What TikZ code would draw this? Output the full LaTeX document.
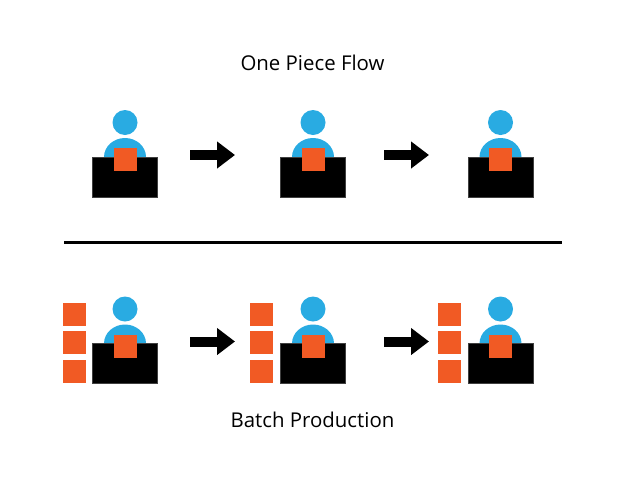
\documentclass[tikz,border=0pt]{standalone}
\usepackage{fontspec}
\setmainfont{Open Sans}
\usetikzlibrary{arrows.meta}
\definecolor{headblue}{HTML}{29ABE2}
\definecolor{partorange}{HTML}{F15A24}
\tikzset{
    head/.style={circle, fill=headblue, minimum size=25pt, inner sep=0pt},
    desk/.style={rectangle, draw=black!75, line width=0.6pt, fill=black, minimum width=65pt, minimum height=40pt, inner sep=0pt},
    part/.style={rectangle, fill=partorange, minimum width=23pt, minimum height=23pt, inner sep=0pt},
    flow/.style={line width=10pt, black, -{Triangle[length=18pt,width=26pt]}},
    title/.style={font=\fontsize{20.4}{24}\selectfont, inner sep=0pt}
}
\begin{document}
\begin{tikzpicture}[x=1pt, y=-1pt]
    \useasboundingbox (0,0) rectangle (626,501);

    \node[title] (onepiece) at (312.5,63) {One Piece Flow};
    \node[title] (batch) at (312.5,419.5) {Batch Production};

    % Top row (t) and bottom row (b)
    \foreach \r/\dy in {t/0, b/186.5} {
        \foreach \i/\x in {1/125, 2/313, 3/500.5} {
            \node[head] (\r head\i) at (\x,122.5+\dy) {};
            \fill[headblue] (\x-21,157+\dy) arc[start angle=180, end angle=0, x radius=21, y radius=-19];
            \node[desk] (\r desk\i) at (\x,177+\dy) {};
            \node[part] (\r part\i) at (\x,159.5+\dy) {};
        }
        \foreach \i/\xa/\xb in {1/190/235, 2/384/429} {
            \coordinate (\r from\i) at (\xa,155+\dy);
            \coordinate (\r to\i) at (\xb,155+\dy);
            \draw[flow] (\r from\i) -- (\r to\i);
        }
    }

    % Waiting parts of the batch row
    \foreach \i/\x in {1/74, 2/261.5, 3/449.5} {
        \foreach \j/\y in {1/314, 2/342.5, 3/371.5} {
            \node[part] (stack\i\j) at (\x,\y) {};
        }
    }

    \coordinate (lineleft) at (64,242.5);
    \coordinate (lineright) at (562,242.5);
    \draw[line width=3.8pt] (lineleft) -- (lineright);
\end{tikzpicture}
\end{document}
